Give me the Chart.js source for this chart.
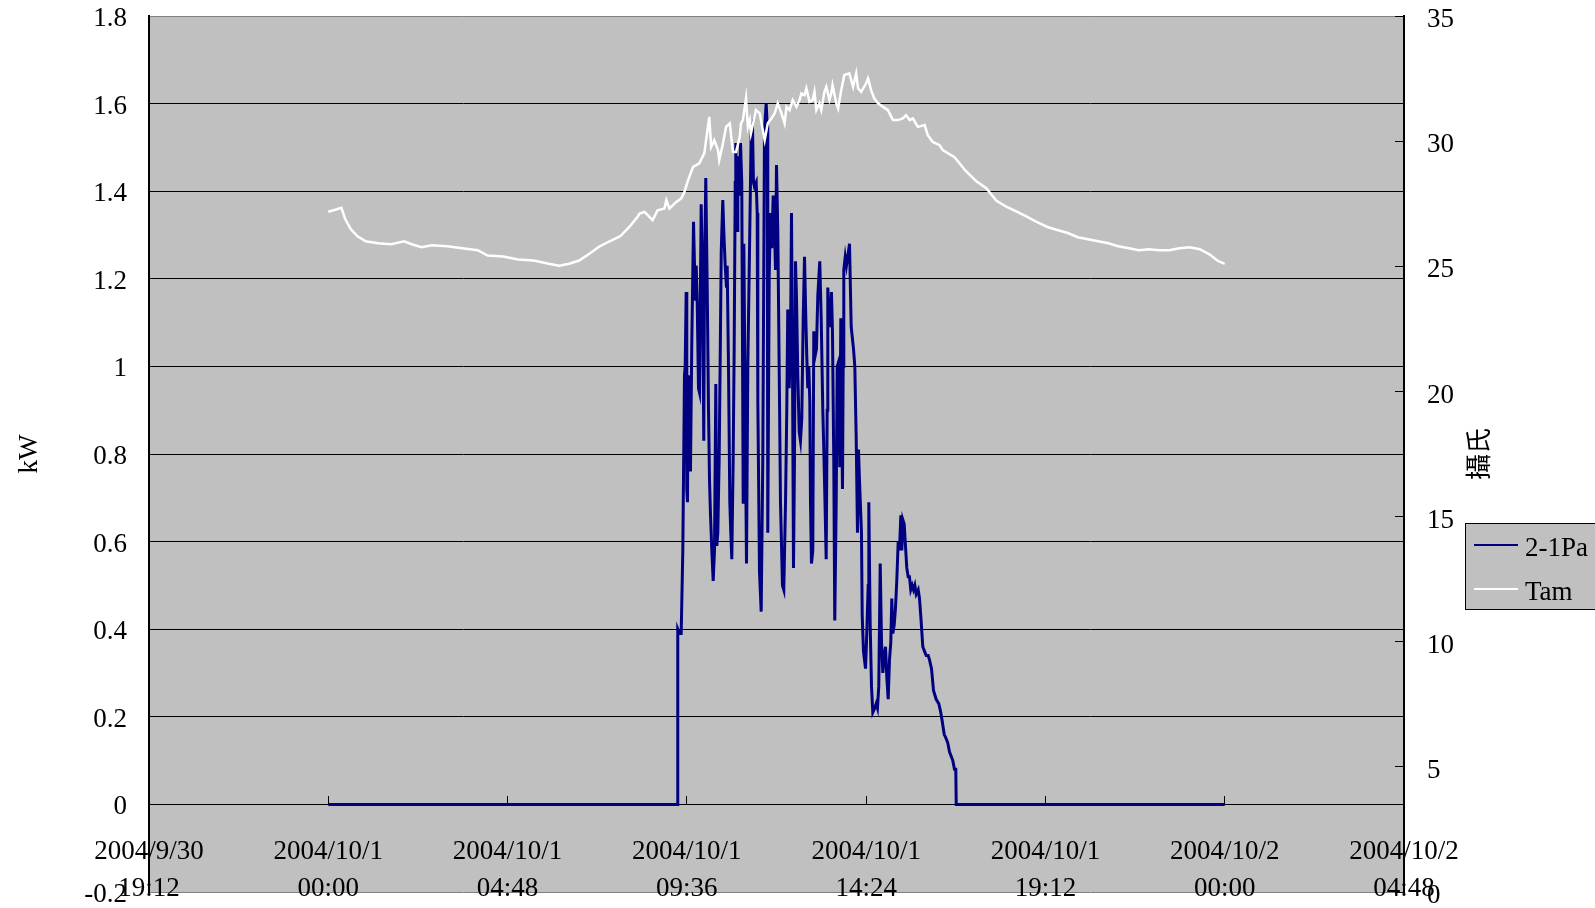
<!DOCTYPE html>
<html>
<head>
<meta charset="utf-8">
<title>2-1Pa / Tam</title>
<script src="https://cdn.jsdelivr.net/npm/chart.js@4.4.1/dist/chart.umd.min.js"></script>
<style>
  html, body { margin: 0; padding: 0; background: #fff; }
  canvas { display: block; }
</style>
</head>
<body>
<canvas id="chart" width="1595" height="908"></canvas>
<script>
// minutes after 2004/10/1 00:00
const powerMinutes = [
  0, 560.5, 561.4, 564.2, 566.9, 569.5, 572.2, 573.3, 574.9, 575.9, 577.0, 578.1, 579.1, 580.2, 581.8,
  583.9, 586.7, 588.3, 589.9, 591.0, 592.6, 594.7, 596.3, 599.0, 601.1, 603.2, 604.3, 606.4, 608.7,
  610.8, 612.4, 614.0, 616.1, 618.3, 620.4, 622.5, 624.1, 625.7, 627.9, 629.5, 631.2, 633.7, 635.3,
  637.6, 639.7, 640.8, 642.9, 645.0, 646.6, 648.2, 650.4, 652.0, 653.7, 654.6, 656.9, 657.8, 660.1,
  662.2, 664.2, 666.5, 667.5, 669.7, 671.8, 673.9, 677.1, 679.4, 681.4, 683.0, 684.6, 687.4, 689.0,
  690.0, 692.7, 695.4, 698.0, 700.7, 703.4, 705.1, 706.0, 708.3, 710.4, 712.4, 714.7, 716.8, 718.4,
  720.0, 722.1, 724.3, 726.4, 729.6, 731.7, 734.5, 736.5, 738.1, 740.4, 742.5, 744.1, 745.7, 747.3,
  748.9, 750.5, 752.1, 754.2, 756.5, 758.5, 760.6, 762.9, 765.0, 767.1, 768.7, 770.3, 771.9, 773.5,
  774.6, 776.2, 778.3, 779.9, 781.5, 784.2, 786.3, 789.5, 791.8, 794.4, 796.0, 798.2, 799.8, 801.4,
  802.4, 804.6, 806.7, 808.3, 809.9, 812.0, 813.6, 815.9, 817.5, 819.6, 821.7, 823.3, 826.0, 827.1,
  828.1, 830.4, 832.4, 834.5, 837.3, 840.0, 843.7, 845.8, 848.0, 850.1, 851.7, 853.3, 856.5, 857.7,
  859.7, 863.0, 865.0, 867.3, 868.3, 870.5, 872.6, 874.7, 877.9, 880.2, 882.2, 884.3, 886.6, 888.7,
  890.8, 893.0, 895.1, 897.2, 899.4, 901.5, 903.6, 905.2, 906.8, 909.1, 911.2, 913.2, 915.5, 917.6,
  919.7, 921.3, 922.9, 925.1, 927.2, 929.3, 931.5, 933.6, 935.7, 938.0, 940.1, 942.2, 944.4, 947.6,
  949.7, 951.8, 955.0, 957.7, 960.5, 963.7, 965.8, 969.0, 972.2, 976.5, 980.7, 983.9, 986.2, 989.4,
  992.6, 995.2, 997.9, 1000.6, 1003.2, 1005.9, 1008.0, 1008.7, 1440
];
const powerKw = [
  0, 0, 0.40, 0.39, 0.39, 0.58, 0.98, 1.00, 1.17, 0.72, 0.69, 0.98, 0.76, 0.96, 0.76,
  1.05, 1.33, 1.23, 1.15, 1.23, 1.15, 0.95, 0.94, 1.37, 1.21, 0.83, 1.21, 1.43, 1.18,
  0.90, 0.74, 0.66, 0.58, 0.51, 0.58, 0.96, 0.59, 0.62, 0.79, 1.01, 1.26, 1.38, 1.31,
  1.23, 1.18, 1.23, 1.00, 0.69, 0.62, 0.56, 0.79, 1.04, 1.42, 1.51, 1.31, 1.48, 1.39,
  1.51, 1.42, 0.69, 1.28, 0.90, 0.55, 1.00, 1.31, 1.54, 1.55, 1.42, 1.41, 1.42, 1.35,
  0.92, 0.53, 0.44, 0.79, 1.54, 1.60, 1.55, 0.62, 1.21, 1.35, 1.27, 1.39, 1.31, 1.22,
  1.46, 1.31, 1.00, 0.69, 0.50, 0.49, 0.69, 0.90, 1.13, 0.95, 1.06, 1.35, 1.00, 0.54,
  0.79, 1.24, 1.16, 0.98, 0.85, 0.83, 0.88, 1.11, 1.25, 1.11, 1.02, 0.95, 1.00, 0.92,
  0.69, 0.55, 0.58, 1.08, 1.02, 1.04, 1.16, 1.24, 1.11, 0.90, 0.81, 0.67, 0.56, 0.90,
  1.18, 1.11, 1.09, 1.17, 1.08, 0.79, 0.42, 0.69, 1.00, 1.01, 0.77, 1.11, 0.72, 1.00,
  1.22, 1.25, 1.23, 1.25, 1.28, 1.09, 1.04, 1.00, 0.84, 0.62, 0.81, 0.74, 0.62, 0.43,
  0.35, 0.31, 0.39, 0.50, 0.69, 0.41, 0.27, 0.21, 0.22, 0.23, 0.22, 0.27, 0.55, 0.37,
  0.30, 0.34, 0.36, 0.29, 0.24, 0.33, 0.37, 0.47, 0.39, 0.41, 0.45, 0.51, 0.60, 0.58,
  0.66, 0.58, 0.65, 0.64, 0.59, 0.54, 0.52, 0.52, 0.49, 0.50, 0.49, 0.50, 0.48, 0.49,
  0.47, 0.43, 0.36, 0.35, 0.34, 0.34, 0.33, 0.31, 0.26, 0.24, 0.23, 0.21, 0.19, 0.16,
  0.15, 0.14, 0.12, 0.11, 0.10, 0.08, 0.08, 0, 0
];

const tempMinutes = [
  0, 11, 21, 27, 36, 47, 60, 80, 101, 122, 134, 150, 166, 191, 215, 240, 256, 281, 305, 330,
  354, 371, 387, 403, 420, 436, 452, 469, 485, 498, 500, 508, 521, 529, 540, 543, 548, 559,
  567, 572, 578, 586, 596, 604, 612, 615, 620, 626, 628, 634, 639, 645, 650, 655, 661, 663,
  666, 671, 674, 677, 679, 687, 693, 701, 706, 712, 717, 722, 728, 733, 736, 741, 746, 752,
  757, 760, 765, 768, 773, 778, 781, 784, 789, 792, 797, 800, 805, 808, 810, 816, 819, 824,
  829, 837, 843, 848, 851, 856, 864, 867, 872, 877, 883, 891, 899, 907, 915, 923, 928, 934,
  939, 947, 958, 963, 971, 982, 987, 1006, 1024, 1041, 1057, 1073, 1089, 1106, 1122, 1138,
  1155, 1171, 1188, 1204, 1220, 1237, 1253, 1269, 1286, 1302, 1318, 1335, 1351, 1367, 1384,
  1400, 1416, 1428, 1440
];
const tempC = [
  27.18, 27.26, 27.34, 26.90, 26.49, 26.20, 26.00, 25.92, 25.88, 26.00, 25.88, 25.76, 25.84,
  25.80, 25.72, 25.64, 25.43, 25.39, 25.27, 25.23, 25.10, 25.02, 25.10, 25.23, 25.51, 25.80,
  26.00, 26.20, 26.61, 27.02, 27.11, 27.17, 26.84, 27.24, 27.31, 27.64, 27.31, 27.57, 27.71,
  27.97, 28.44, 28.97, 29.11, 29.51, 30.97, 29.77, 30.04, 29.64, 29.24, 29.91, 30.57, 30.71,
  29.57, 29.57, 30.17, 30.71, 30.84, 31.71, 30.57, 30.84, 30.31, 31.24, 31.11, 30.04, 30.71,
  30.91, 31.11, 31.51, 31.11, 30.71, 31.37, 31.24, 31.64, 31.37, 31.64, 31.91, 31.84, 32.11,
  31.57, 31.64, 31.97, 31.24, 31.51, 31.24, 31.97, 32.17, 31.64, 31.91, 32.24, 31.51, 31.31,
  32.04, 32.64, 32.71, 32.17, 32.71, 32.11, 31.97, 32.31, 32.51, 32.04, 31.71, 31.51, 31.37,
  31.24, 30.84, 30.84, 30.91, 31.04, 30.84, 30.91, 30.57, 30.64, 30.24, 29.97, 29.84, 29.64,
  29.36, 28.81, 28.40, 28.12, 27.63, 27.38, 27.18, 26.98, 26.77, 26.57, 26.45, 26.33, 26.16,
  26.08, 26.00, 25.92, 25.80, 25.72, 25.64, 25.68, 25.64, 25.64, 25.72, 25.76, 25.68, 25.47,
  25.23, 25.10
];

const timeTicks = [
  ['2004/9/30', '19:12'], ['2004/10/1', '00:00'], ['2004/10/1', '04:48'], ['2004/10/1', '09:36'],
  ['2004/10/1', '14:24'], ['2004/10/1', '19:12'], ['2004/10/2', '00:00'], ['2004/10/2', '04:48']
];
const kwTicks = ['-0.2', '0', '0.2', '0.4', '0.6', '0.8', '1', '1.2', '1.4', '1.6', '1.8'];
const degTicks = ['0', '5', '10', '15', '20', '25', '30', '35'];

const toPoints = (xs, ys) => xs.map((x, i) => ({x, y: ys[i]}));

Chart.defaults.font.family = "'Liberation Serif', 'Times New Roman', serif";
Chart.defaults.font.size = 27;
Chart.defaults.color = '#000';

// grey plot area like the spreadsheet default
const plotBackground = {
  id: 'plotBackground',
  beforeDraw(chart) {
    const {ctx, chartArea: a} = chart;
    ctx.save();
    ctx.fillStyle = '#c0c0c0';
    ctx.fillRect(a.left, a.top, a.right - a.left, a.bottom - a.top);
    ctx.restore();
  }
};

// right axis title, read bottom to top
const sideTitle = {
  id: 'sideTitle',
  afterDraw(chart, args, opts) {
    const {ctx, chartArea: a} = chart;
    ctx.save();
    ctx.translate(opts.x, (a.top + a.bottom) / 2);
    ctx.rotate(-Math.PI / 2);
    ctx.font = opts.font;
    ctx.fillStyle = '#000';
    ctx.textAlign = 'center';
    ctx.textBaseline = 'middle';
    ctx.fillText(opts.text, 0, 0);
    ctx.restore();
  }
};

// boxed legend sitting right of the secondary axis
const boxLegend = {
  id: 'boxLegend',
  afterDraw(chart, args, opts) {
    const {ctx} = chart;
    ctx.save();
    ctx.fillStyle = '#c0c0c0';
    ctx.fillRect(opts.left, opts.top, opts.width, opts.height);
    ctx.strokeStyle = '#000';
    ctx.lineWidth = 1;
    ctx.strokeRect(opts.left + 0.5, opts.top + 0.5, opts.width, opts.height);
    ctx.font = "27px 'Liberation Serif', serif";
    ctx.textBaseline = 'middle';
    chart.data.datasets.forEach((ds, i) => {
      const y = opts.top + 22 + i * 44;
      ctx.strokeStyle = ds.borderColor;
      ctx.lineWidth = 2;
      ctx.beginPath();
      ctx.moveTo(opts.left + 9, y);
      ctx.lineTo(opts.left + 53, y);
      ctx.stroke();
      ctx.fillStyle = '#000';
      ctx.fillText(ds.label, opts.left + 60, y + 4);
    });
    ctx.restore();
  }
};

// keep the side axes from padding the plot vertically
const fixSideAxis = width => s => {
  s.width = width;
  s.paddingTop = 0;
  s.paddingBottom = 0;
};

new Chart(document.getElementById('chart'), {
  type: 'line',
  data: {
    datasets: [
      {
        label: '2-1Pa',
        data: toPoints(powerMinutes, powerKw),
        yAxisID: 'y',
        borderColor: '#000080',
        borderWidth: 3,
        pointRadius: 0,
        tension: 0,
        order: 1
      },
      {
        label: 'Tam',
        data: toPoints(tempMinutes, tempC),
        yAxisID: 'y1',
        borderColor: '#ffffff',
        borderWidth: 2.5,
        pointRadius: 0,
        tension: 0,
        order: 0
      }
    ]
  },
  options: {
    responsive: false,
    animation: false,
    devicePixelRatio: 1,
    layout: {padding: {top: 16, bottom: 16, left: 0, right: 0}},
    plugins: {
      legend: {display: false},
      tooltip: {enabled: false},
      sideTitle: {text: '攝氏', x: 1478, font: "26px 'Noto Sans CJK TC', sans-serif"},
      boxLegend: {left: 1465, top: 523, width: 150, height: 86}
    },
    scales: {
      x: {
        type: 'linear',
        position: {y: 0},
        min: -288,
        max: 1728,
        ticks: {
          stepSize: 288,
          maxRotation: 0,
          autoSkip: false,
          padding: 38,
          font: {lineHeight: 1.37},
          callback: (v, i) => timeTicks[i]
        },
        grid: {drawOnChartArea: false, drawTicks: true, tickLength: -9, color: '#000'},
        border: {color: '#000', width: 1}
      },
      y: {
        position: 'left',
        min: -0.2,
        max: 1.8,
        ticks: {stepSize: 0.2, padding: 31, labelOffset: 3, callback: (v, i) => kwTicks[i]},
        grid: {
          tickLength: -9,
          color: c => (c.index === 0 || c.index === kwTicks.length - 1) ? '#808080' : '#000',
          lineWidth: 1
        },
        border: {color: '#000', width: 2},
        title: {display: true, text: 'kW', padding: {top: 14, bottom: 0}},
        afterFit: fixSideAxis(149)
      },
      y1: {
        position: 'right',
        min: 0,
        max: 35,
        ticks: {stepSize: 5, padding: 32, labelOffset: 4, callback: (v, i) => degTicks[i]},
        grid: {drawOnChartArea: false, tickLength: -9, color: '#000'},
        border: {color: '#000', width: 2},
        afterFit: fixSideAxis(191)
      }
    }
  },
  plugins: [plotBackground, sideTitle, boxLegend]
});
</script>
</body>
</html>
